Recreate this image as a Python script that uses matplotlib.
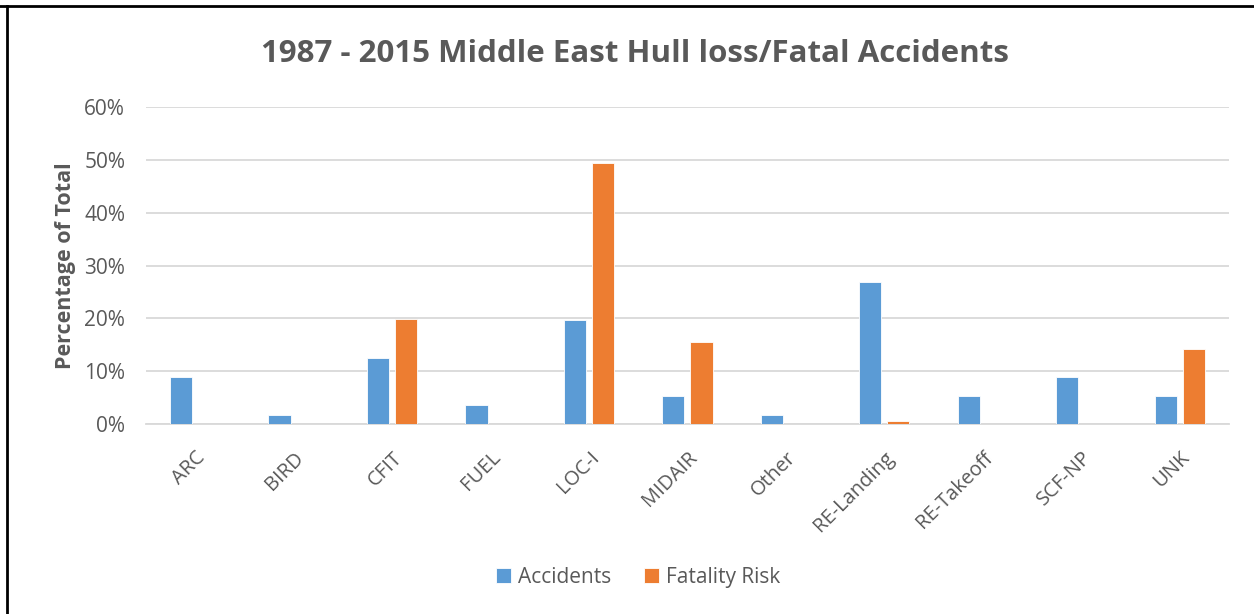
import matplotlib
matplotlib.use('Agg')
import matplotlib.pyplot as plt
from matplotlib.lines import Line2D
from matplotlib.ticker import PercentFormatter
import numpy as np

plt.rcParams['font.family'] = ['Open Sans', 'DejaVu Sans']

categories = ['ARC', 'BIRD', 'CFIT', 'FUEL', 'LOC-I', 'MIDAIR', 'Other',
              'RE-Landing', 'RE-Takeoff', 'SCF-NP', 'UNK']
accidents = [8.9, 1.8, 12.5, 3.6, 19.6, 5.3, 1.8, 26.8, 5.3, 8.9, 5.3]
fatality_risk = [0, 0, 19.8, 0, 49.4, 15.6, 0, 0.5, 0, 0, 14.2]

blue = '#5B9BD5'
orange = '#ED7D31'
text_gray = '#595959'
grid_gray = '#D9D9D9'

fig = plt.figure(figsize=(12.54, 6.14), dpi=100)
ax = fig.add_axes([0.1164, 0.3094, 0.8636, 0.5163])

x = np.arange(len(categories))
w = 0.225
off = 0.143
ax.bar(x - off, accidents, w, color=blue, edgecolor='white', linewidth=0.6,
       label='Accidents', zorder=3)
ax.bar(x + off, fatality_risk, w, color=orange, edgecolor='white', linewidth=0.6,
       label='Fatality Risk', zorder=3)

ax.set_xlim(-0.5, len(categories) - 0.5)
ax.set_ylim(0, 60)
ax.set_yticks(np.arange(0, 61, 10))
ax.yaxis.set_major_formatter(PercentFormatter(decimals=0))
ax.grid(axis='y', color=grid_gray, linewidth=1.3, zorder=0)

for s in ['top', 'right', 'left']:
    ax.spines[s].set_visible(False)
ax.spines['bottom'].set_color(grid_gray)
ax.spines['bottom'].set_linewidth(1.3)

ax.set_xticks(x)
ax.set_xticklabels(categories, rotation=45, ha='right', rotation_mode='anchor',
                   fontsize=14.5, color=text_gray)
ax.tick_params(axis='x', length=0, pad=17)
ax.tick_params(axis='y', length=0, pad=15, labelsize=15, labelcolor=text_gray)

ax.set_ylabel('Percentage of Total', fontsize=15.5, fontweight='bold',
              color=text_gray, labelpad=6)

fig.text(0.506, 0.912, '1987 - 2015 Middle East Hull loss/Fatal Accidents',
         ha='center', va='center', fontsize=22.5, fontweight='bold', color=text_gray)

fig.legend(loc='center', bbox_to_anchor=(0.509, 0.06), ncol=2, frameon=False,
           fontsize=15, labelcolor=text_gray, handlelength=0.7, handleheight=0.7,
           handletextpad=0.35, columnspacing=1.6)

# outer frame (top and left edges)
fig.add_artist(Line2D([0, 1], [1 - 5.5 / 614, 1 - 5.5 / 614], color='black',
                      linewidth=2, transform=fig.transFigure))
fig.add_artist(Line2D([7 / 1254, 7 / 1254], [0, 1 - 5.5 / 614], color='black',
                      linewidth=2, transform=fig.transFigure))

fig.savefig('out.png', dpi=100)
